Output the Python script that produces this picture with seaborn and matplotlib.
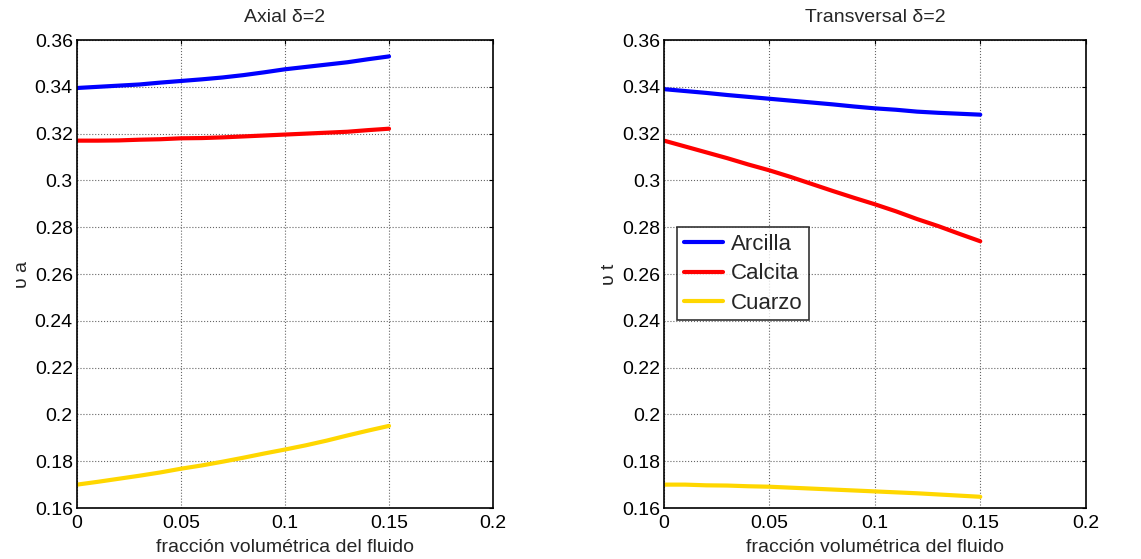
import matplotlib
matplotlib.use("Agg")
import matplotlib.pyplot as plt
import seaborn as sns
import pandas as pd

# fracción volumétrica del fluido
phi = [0.00, 0.01, 0.02, 0.03, 0.04, 0.05, 0.06, 0.07,
       0.08, 0.09, 0.10, 0.11, 0.12, 0.13, 0.14, 0.15]

minerals = ["Arcilla", "Calcita", "Cuarzo"]
colors = ["#0000FF", "#FF0000", "#FFD700"]

# Axial delta=2
axial_arcilla = [0.3395, 0.3400, 0.3405, 0.3410, 0.3418, 0.3425, 0.3432, 0.3440,
                 0.3450, 0.3462, 0.3475, 0.3485, 0.3495, 0.3505, 0.3518, 0.3530]
axial_calcita = [0.3170, 0.3170, 0.3171, 0.3174, 0.3176, 0.3180, 0.3181, 0.3184,
                 0.3188, 0.3192, 0.3196, 0.3200, 0.3204, 0.3208, 0.3215, 0.3221]
axial_cuarzo = [0.1700, 0.1712, 0.1725, 0.1738, 0.1752, 0.1768, 0.1782, 0.1798,
                0.1815, 0.1833, 0.1850, 0.1868, 0.1888, 0.1910, 0.1931, 0.1951]

# Transversal delta=2
trans_arcilla = [0.3390, 0.3382, 0.3374, 0.3365, 0.3357, 0.3349, 0.3341, 0.3333,
                 0.3325, 0.3316, 0.3308, 0.3302, 0.3294, 0.3289, 0.3285, 0.3281]
trans_calcita = [0.3170, 0.3145, 0.3120, 0.3095, 0.3068, 0.3043, 0.3015, 0.2985,
                 0.2955, 0.2926, 0.2898, 0.2868, 0.2835, 0.2805, 0.2772, 0.2740]
trans_cuarzo = [0.1700, 0.1700, 0.1697, 0.1696, 0.1693, 0.1691, 0.1687, 0.1683,
                0.1679, 0.1675, 0.1671, 0.1667, 0.1663, 0.1658, 0.1653, 0.1648]

xticks = [0, 0.05, 0.1, 0.15, 0.2]
xticklabels = ["0", "0.05", "0.1", "0.15", "0.2"]
yticks = [0.16, 0.18, 0.2, 0.22, 0.24, 0.26, 0.28, 0.3, 0.32, 0.34, 0.36]
yticklabels = ["0.16", "0.18", "0.2", "0.22", "0.24", "0.26", "0.28", "0.3", "0.32", "0.34", "0.36"]


def to_long(series):
    frames = []
    for name, vals in zip(minerals, series):
        frames.append(pd.DataFrame({"phi": phi, "nu": vals, "mineral": name}))
    return pd.concat(frames, ignore_index=True)


axial_df = to_long([axial_arcilla, axial_calcita, axial_cuarzo])
trans_df = to_long([trans_arcilla, trans_calcita, trans_cuarzo])

sns.set_style("white")
plt.rcParams["font.family"] = ["Liberation Sans", "DejaVu Sans"]
plt.rcParams["font.size"] = 14

fig = plt.figure(figsize=(11.41, 5.59), dpi=100)
ax1 = fig.add_axes([0.0675, 0.0912, 0.3646, 0.8372])
ax2 = fig.add_axes([0.5820, 0.0912, 0.3695, 0.8372])

panels = [
    (ax1, axial_df, "Axial \u03b4=2", "\u03c5 a"),
    (ax2, trans_df, "Transversal \u03b4=2", "\u03c5 t"),
]

for ax, df, title, ylab in panels:
    sns.lineplot(data=df, x="phi", y="nu", hue="mineral", hue_order=minerals,
                 palette=colors, linewidth=3.0, ax=ax, legend=(ax is ax2))
    ax.set_xlim(0, 0.2)
    ax.set_ylim(0.16, 0.36)
    ax.set_xticks(xticks)
    ax.set_xticklabels(xticklabels)
    ax.set_yticks(yticks)
    ax.set_yticklabels(yticklabels)
    ax.grid(True, color="#666666", linestyle=":", linewidth=0.8)
    ax.tick_params(direction="in", length=3, width=0.8, top=True, right=True,
                   labelsize=14, colors="black")
    ax.tick_params(axis="x", pad=5)
    ax.tick_params(axis="y", pad=3)
    for s in ax.spines.values():
        s.set_color("black")
        s.set_linewidth(1.2)
    ax.set_title(title, fontsize=14, pad=13)
    ax.set_xlabel("fracci\u00f3n volum\u00e9trica del fluido", fontsize=14, labelpad=5)
    ax.set_ylabel(ylab, fontsize=14, labelpad=3)

leg = ax2.legend(loc="upper left", bbox_to_anchor=(0.031, 0.600), borderaxespad=0,
                 frameon=True, fancybox=False, edgecolor="black", fontsize=16,
                 handlelength=1.75, handletextpad=0.35, labelspacing=0.38,
                 borderpad=0.3, title=None)
leg.get_frame().set_linewidth(1.2)
for line in leg.get_lines():
    line.set_linewidth(3.0)

fig.savefig("out.png", dpi=100)
